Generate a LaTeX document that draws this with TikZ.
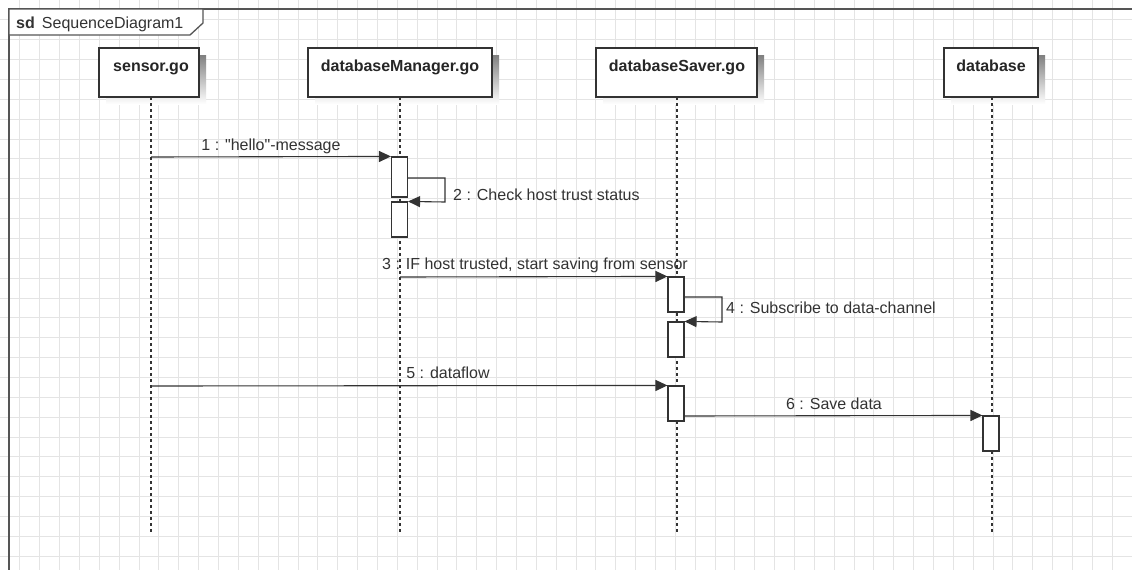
\documentclass[tikz,border=0pt]{standalone}
\usepackage{fontspec}
\setmainfont{Liberation Sans}[Ligatures=TeXOff]
\usetikzlibrary{arrows.meta}
\definecolor{ink}{HTML}{333333}
\definecolor{framec}{HTML}{555555}
\definecolor{gridc}{HTML}{E4E4E4}
\definecolor{shade}{HTML}{F1F1F1}
\tikzset{
  lifebox/.style={draw=ink, line width=1.3pt, fill=white, minimum height=49pt, inner sep=0pt},
  boxtitle/.style={font=\fontsize{16}{18}\selectfont\bfseries, text=black!85, anchor=base, inner sep=0pt},
  lifeline/.style={draw=ink, line width=1.1pt, dash pattern=on 3pt off 3pt},
  actbox/.style={draw=ink, line width=1.1pt, fill=white, minimum width=16pt, inner sep=0pt},
  msg/.style={draw=ink, line width=1.1pt, -{Triangle[length=12pt,width=11pt]}},
  msglabel/.style={font=\fontsize{16}{18}\selectfont, text=ink, inner sep=0pt, anchor=base},
}
\begin{document}
\begin{tikzpicture}[x=1pt, y=-1pt]
\useasboundingbox (0,0) rectangle (1132,570);
\fill[white] (0,0) rectangle (1132,570);
\begin{scope}
\clip (0,0) rectangle (1132,570);
% background grid
\foreach \i in {1,...,57} \draw[gridc, line width=0.8pt] (\i*19.86,0) -- (\i*19.86,570);
\foreach \j in {1,...,28} \draw[gridc, line width=0.8pt] (0,\j*19.86) -- (1132,\j*19.86);
% diagram frame
\draw[framec, line width=1.5pt] (9,600) -- (9,9) -- (1150,9);
\end{scope}
% frame tab
\draw[framec, line width=1.3pt, fill=white] (9,9) -- (203,9) -- (203,23) -- (190,35) -- (9,35) -- cycle;
\node[anchor=base west, inner sep=0pt, font=\fontsize{16}{18}\selectfont, text=ink] (tab) at (16,28) {\textbf{sd}\, SequenceDiagram1};

% lifeline heads with soft shadows
\foreach \l/\r in {99/199, 308/492, 596/757, 944/1038}
  \fill[shade] (\l+7,55) rectangle (\r+7,104);
\node[lifebox, minimum width=100pt] (sensor) at (149,72.5) {};
\node[lifebox, minimum width=184pt] (mgr) at (400,72.5) {};
\node[lifebox, minimum width=161pt] (saver) at (676.5,72.5) {};
\node[lifebox, minimum width=94pt] (db) at (991,72.5) {};
\node[boxtitle] (sensorT) at (151,71) {sensor.go};
\node[boxtitle] (mgrT) at (400,71) {databaseManager.go};
\node[boxtitle] (saverT) at (677,71) {databaseSaver.go};
\node[boxtitle] (dbT) at (991,71) {database};

% lifeline ends
\coordinate (sensorE) at (151,533);
\coordinate (mgrE) at (400,533);
\coordinate (saverE) at (677,533);
\coordinate (dbE) at (992,533);
\draw[lifeline] (151,97) -- (sensorE);
\draw[lifeline] (400,97) -- (mgrE);
\draw[lifeline] (677,97) -- (saverE);
\draw[lifeline] (992,97) -- (dbE);

% activation bars
\node[actbox, minimum height=40pt] (a1) at (399.5,177) {};
\node[actbox, minimum height=35pt] (a2) at (399.5,219.5) {};
\node[actbox, minimum height=35pt] (a3) at (676,294.5) {};
\node[actbox, minimum height=35pt] (a4) at (676,339.5) {};
\node[actbox, minimum height=35pt] (a5) at (676,403.5) {};
\node[actbox, minimum height=35pt] (a6) at (991,433.5) {};

% messages
\coordinate (m1s) at (151,157);
\draw[msg] (m1s) -- (a1.north west);
\node[msglabel] (l1) at (271,150) {1 : "hello"-message};

\draw[msg] (a1.east |- 0,178) -- (445,178) -- (445,202) -- (a2.north east);
\node[msglabel, anchor=base west] (l2) at (453,200) {2 : Check host trust status};

\coordinate (m3s) at (400,277);
\draw[msg] (m3s) -- (a3.north west);
\node[msglabel] (l3) at (535,269) {3 : IF host trusted, start saving from sensor};

\draw[msg] (a3.east |- 0,297) -- (722,297) -- (722,322) -- (a4.north east);
\node[msglabel, anchor=base west] (l4) at (726,313) {4 : Subscribe to data-channel};

\coordinate (m5s) at (151,386);
\draw[msg] (m5s) -- (a5.north west);
\node[msglabel] (l5) at (448,378) {5 : dataflow};

\draw[msg] (a5.east |- 0,416) -- (a6.north west);
\node[msglabel] (l6) at (834,409) {6 : Save data};
\end{tikzpicture}
\end{document}
